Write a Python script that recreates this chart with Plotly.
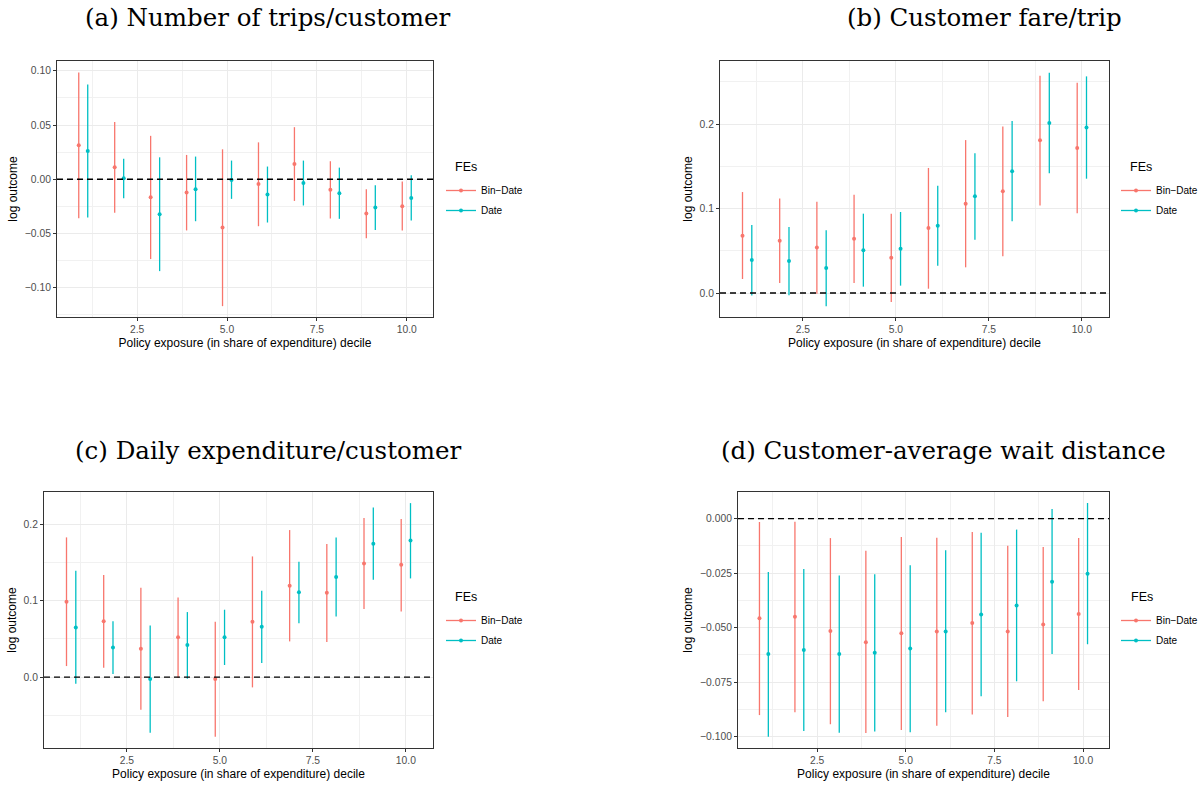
import plotly.graph_objects as go

W, H = 1204, 785
deciles = list(range(1, 11))
DODGE = 0.125
RED = "#F8766D"
CYAN = "#00BFC4"
series_names = ["Bin−Date", "Date"]
legend_title = "FEs"
x_title = "Policy exposure (in share of expenditure) decile"
y_title = "log outcome"
x_ticks = [2.5, 5.0, 7.5, 10.0]

# (a) Number of trips/customer
a_bin_est = [0.0313, 0.011, -0.0166, -0.0123, -0.0445, -0.0043, 0.0141, -0.0098, -0.0316, -0.0248]
a_bin_lo = [-0.0359, -0.031, -0.0736, -0.0472, -0.117, -0.0433, -0.020, -0.0362, -0.0543, -0.0472]
a_bin_hi = [0.0985, 0.0528, 0.040, 0.0224, 0.0276, 0.034, 0.048, 0.0166, -0.0092, -0.0021]
a_date_est = [0.026, 0.0009, -0.0322, -0.0092, -0.0006, -0.0141, -0.0034, -0.0129, -0.0261, -0.0172]
a_date_lo = [-0.0353, -0.0175, -0.0847, -0.0387, -0.0181, -0.0399, -0.0242, -0.0365, -0.0469, -0.038]
a_date_hi = [0.0874, 0.019, 0.0202, 0.0209, 0.0172, 0.0117, 0.0172, 0.0107, -0.0055, 0.0037]

# (b) Customer fare/trip
b_bin_est = [0.0679, 0.0619, 0.054, 0.0643, 0.0418, 0.0769, 0.1057, 0.1203, 0.1807, 0.1716]
b_bin_lo = [0.0166, 0.0118, -0.0008, 0.0118, -0.0107, 0.0051, 0.0304, 0.0434, 0.1037, 0.0943]
b_bin_hi = [0.1195, 0.112, 0.108, 0.1164, 0.0939, 0.148, 0.181, 0.197, 0.257, 0.249]
b_date_est = [0.039, 0.0379, 0.0296, 0.0505, 0.0525, 0.0797, 0.1144, 0.144, 0.2012, 0.196]
b_date_lo = [-0.003, -0.0028, -0.0158, 0.0075, 0.0087, 0.0323, 0.0631, 0.0848, 0.1416, 0.1353]
b_date_hi = [0.0805, 0.0781, 0.0742, 0.0939, 0.0959, 0.127, 0.1653, 0.2036, 0.2607, 0.2564]

# (c) Daily expenditure/customer
c_bin_est = [0.0989, 0.0731, 0.0372, 0.0521, -0.0026, 0.0726, 0.1199, 0.1107, 0.1492, 0.1475]
c_bin_lo = [0.0144, 0.0123, -0.0429, -0.0013, -0.0783, -0.0136, 0.0468, 0.046, 0.0893, 0.0862]
c_bin_hi = [0.1834, 0.1339, 0.1173, 0.1046, 0.0726, 0.1584, 0.193, 0.1746, 0.2088, 0.2074]
c_date_est = [0.0652, 0.0389, -0.0026, 0.042, 0.0521, 0.0661, 0.1112, 0.1313, 0.175, 0.1794]
c_date_lo = [-0.0088, 0.0039, -0.0731, -0.0022, 0.0158, 0.0184, 0.0705, 0.0796, 0.1278, 0.1295]
c_date_hi = [0.1396, 0.0731, 0.0678, 0.0853, 0.0884, 0.1133, 0.1514, 0.1834, 0.2228, 0.2284]

# (d) Customer-average wait distance
d_bin_est = [-0.0457, -0.045, -0.0515, -0.0567, -0.0526, -0.0518, -0.0479, -0.0517, -0.0485, -0.0437]
d_bin_lo = [-0.0901, -0.0888, -0.0943, -0.0983, -0.0969, -0.095, -0.0898, -0.091, -0.0838, -0.0786]
d_bin_hi = [-0.0015, -0.0014, -0.0089, -0.0147, -0.0084, -0.0087, -0.0061, -0.0124, -0.013, -0.0089]
d_date_est = [-0.0621, -0.0602, -0.0621, -0.0615, -0.0596, -0.0517, -0.0439, -0.0398, -0.0289, -0.0252]
d_date_lo = [-0.100, -0.0974, -0.0982, -0.0976, -0.098, -0.0888, -0.0815, -0.0746, -0.0621, -0.0576]
d_date_hi = [-0.0245, -0.0231, -0.0261, -0.0255, -0.0214, -0.0145, -0.0064, -0.005, 0.0044, 0.0072]

panels = [
    dict(title="(a) Number of trips/customer", tx=268, ty=18,
         px=(57, 433), py=(61, 317), yr=[-0.127, 0.109],
         yt=[-0.10, -0.05, 0.0, 0.05, 0.10], ym=[-0.125, -0.075, -0.025, 0.025, 0.075],
         fmt=".2f", lt=(453, 166.5), leg=(441, 176),
         data=[(a_bin_est, a_bin_lo, a_bin_hi), (a_date_est, a_date_lo, a_date_hi)]),
    dict(title="(b) Customer fare/trip", tx=985, ty=18,
         px=(720, 1109), py=(61, 317), yr=[-0.0284, 0.2746],
         yt=[0.0, 0.1, 0.2], ym=[0.05, 0.15, 0.25],
         fmt=".1f", lt=(1128, 166.5), leg=(1116, 176),
         data=[(b_bin_est, b_bin_lo, b_bin_hi), (b_date_est, b_date_lo, b_date_hi)]),
    dict(title="(c) Daily expenditure/customer", tx=268, ty=450,
         px=(44, 433), py=(492, 748), yr=[-0.0932, 0.243],
         yt=[0.0, 0.1, 0.2], ym=[-0.05, 0.05, 0.15],
         fmt=".1f", lt=(453, 596.7), leg=(441, 606),
         data=[(c_bin_est, c_bin_lo, c_bin_hi), (c_date_est, c_date_lo, c_date_hi)]),
    dict(title="(d) Customer-average wait distance", tx=943, ty=450,
         px=(738, 1109), py=(492, 748), yr=[-0.1052, 0.01225],
         yt=[-0.100, -0.075, -0.050, -0.025, 0.0], ym=[-0.0875, -0.0625, -0.0375, -0.0125],
         fmt=".3f", lt=(1128.5, 596.7), leg=(1116, 606),
         data=[(d_bin_est, d_bin_lo, d_bin_hi), (d_date_est, d_date_lo, d_date_hi)]),
]

fig = go.Figure()
layout = dict(width=W, height=H, margin=dict(l=0, r=0, t=0, b=0),
              paper_bgcolor="white", plot_bgcolor="white",
              font=dict(family="Liberation Sans, Arial, sans-serif", color="black"),
              showlegend=True)
annotations = []
shapes = []

for i, p in enumerate(panels):
    n = "" if i == 0 else str(i + 1)
    xa, ya = "x" + n, "y" + n
    legname = "legend" + n
    colors = [RED, CYAN]
    offsets = [-DODGE, DODGE]
    for s in range(2):
        est, lo, hi = p["data"][s]
        xs = [d + offsets[s] for d in deciles]
        grp = f"g{i}_{s}"
        fig.add_trace(go.Scatter(
            x=xs, y=est, mode="markers", xaxis=xa, yaxis=ya,
            marker=dict(color=colors[s], size=4),
            error_y=dict(type="data", symmetric=False,
                         array=[h - e for h, e in zip(hi, est)],
                         arrayminus=[e - l for e, l in zip(est, lo)],
                         width=0, thickness=1.3, color=colors[s]),
            showlegend=False, name=series_names[s], legend=legname, legendgroup=grp))
        fig.add_trace(go.Scatter(
            x=[None], y=[None], mode="lines+markers", xaxis=xa, yaxis=ya,
            line=dict(color=colors[s], width=1.3),
            marker=dict(color=colors[s], size=4),
            name=series_names[s], legend=legname, legendgroup=grp, showlegend=True))

    axis_common = dict(showline=True, mirror=True, linecolor="#333333", linewidth=1.1,
                       ticks="outside", ticklen=3, tickcolor="#333333", tickwidth=1,
                       showgrid=True, gridcolor="#EBEBEB", gridwidth=1.1,
                       zeroline=False,
                       tickfont=dict(size=10.3, color="#4D4D4D"))
    layout["xaxis" + n] = dict(
        axis_common, domain=[p["px"][0] / W, p["px"][1] / W], anchor=ya,
        range=[0.27, 10.73], tickmode="array", tickvals=x_ticks, tickformat=".1f",
        minor=dict(tickmode="array", tickvals=[1.25, 3.75, 6.25, 8.75], showgrid=True,
                   gridcolor="#F1F1F1", gridwidth=0.6, ticks=""),
        title=dict(text=x_title, font=dict(size=12), standoff=4))
    layout["yaxis" + n] = dict(
        axis_common, domain=[1 - p["py"][1] / H, 1 - p["py"][0] / H], anchor=xa,
        range=p["yr"], tickmode="array", tickvals=p["yt"], tickformat=p["fmt"],
        minor=dict(tickmode="array", tickvals=p["ym"], showgrid=True,
                   gridcolor="#F1F1F1", gridwidth=0.6, ticks=""),
        title=dict(text=y_title, font=dict(size=12), standoff=4))
    layout[legname] = dict(
        x=p["leg"][0] / W, y=1 - p["leg"][1] / H, xanchor="left", yanchor="top",
        xref="paper", yref="paper", bgcolor="rgba(0,0,0,0)",
        font=dict(size=10), itemwidth=30, tracegroupgap=1)
    annotations.append(dict(text=legend_title, x=p["lt"][0] / W, y=1 - p["lt"][1] / H,
                            xref="paper", yref="paper", xanchor="left", yanchor="middle",
                            showarrow=False, font=dict(size=12.5, color="black")))
    shapes.append(dict(type="line", xref=xa + " domain", yref=ya,
                       x0=0, x1=1, y0=0, y1=0,
                       line=dict(color="black", width=1.3, dash="6px,4px")))
    annotations.append(dict(text=p["title"], x=p["tx"] / W, y=1 - p["ty"] / H,
                            xref="paper", yref="paper", xanchor="center", yanchor="middle",
                            showarrow=False,
                            font=dict(family="DejaVu Serif, serif", size=24.5, color="black")))

layout["annotations"] = annotations
layout["shapes"] = shapes
fig.update_layout(**layout)
fig.write_html("out.html")
